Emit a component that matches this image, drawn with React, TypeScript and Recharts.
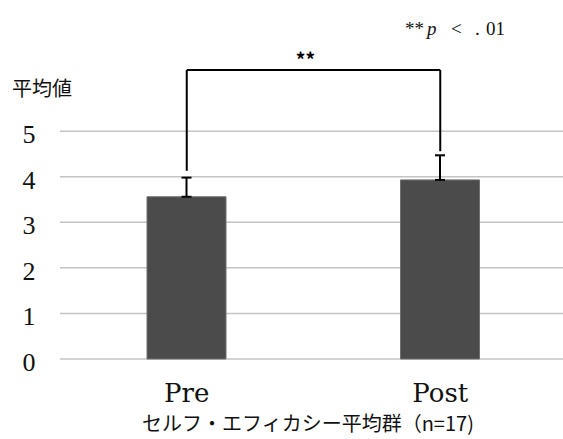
import { BarChart, Bar, XAxis, YAxis, CartesianGrid, ErrorBar, ReferenceLine, Label } from 'recharts';

const categories = ['Pre', 'Post'];
const means = [3.56, 3.93];
const errors = [0.42, 0.54];
const yTicks = [0, 1, 2, 3, 4, 5];
const bracketTop = 6.34;
const bracketEnds = [4.13, 4.56];

const data = categories.map((name, i) => ({
  name,
  mean: means[i],
  err: [0, errors[i]],
}));

const serif = '"Liberation Serif", serif';
const wideSerif = '"DejaVu Serif", serif';
const jp = '"Noto Sans CJK JP", sans-serif';

function YTick({ y, payload }: any) {
  return (
    <text x={29} y={y + 12} textAnchor="middle" fontFamily={serif} fontSize={26} fill="#111">
      {payload.value}
    </text>
  );
}

function XTick({ x, y, payload }: any) {
  return (
    <text x={x} y={y + 35} textAnchor="middle" fontFamily={wideSerif} fontSize={26} fill="#111">
      {payload.value}
    </text>
  );
}

export default function App() {
  return (
    <div style={{ position: 'absolute', left: 0, top: 0, width: 563, height: 439, overflow: 'hidden', background: '#fff' }}>
      <BarChart width={567} height={439} data={data} margin={{ top: 40, right: 0, left: 0, bottom: 20 }} barSize={79}>
        <CartesianGrid vertical={false} horizontalValues={yTicks} stroke="#c4c4c4" strokeWidth={1.5} />
        <XAxis dataKey="name" axisLine={false} tickLine={false} height={60} tick={<XTick />} />
        <YAxis
          domain={[0, 7]}
          ticks={yTicks}
          width={60}
          axisLine={false}
          tickLine={false}
          tick={<YTick />}
        />
        <Bar dataKey="mean" fill="#4b4b4b" stroke="#707070" strokeWidth={1} isAnimationActive={false}>
          <ErrorBar dataKey="err" width={5} stroke="#000" strokeWidth={2} />
        </Bar>
        <ReferenceLine
          segment={[{ x: categories[0], y: bracketTop }, { x: categories[1], y: bracketTop }]}
          stroke="#000"
          strokeWidth={2}
          ifOverflow="visible"
        >
          <Label value="**" position="top" offset={3} dx={-8} fontFamily={jp} fontSize={19} fontWeight="bold" fill="#000" />
        </ReferenceLine>
        <ReferenceLine
          segment={[{ x: categories[0], y: bracketTop }, { x: categories[0], y: bracketEnds[0] }]}
          stroke="#000"
          strokeWidth={2}
          ifOverflow="visible"
        />
        <ReferenceLine
          segment={[{ x: categories[1], y: bracketTop }, { x: categories[1], y: bracketEnds[1] }]}
          stroke="#000"
          strokeWidth={2}
          ifOverflow="visible"
        />
      </BarChart>
      <svg width={563} height={439} style={{ position: 'absolute', left: 0, top: 0, pointerEvents: 'none' }}>
        <text x={12} y={96} fontFamily={jp} fontSize={20} fill="#111">平均値</text>
        <text y={35} fontFamily={serif} fontSize={19} fill="#111">
          <tspan x={405}>**</tspan>
          <tspan x={427} fontStyle="italic">p</tspan>
          <tspan x={451}>&lt;</tspan>
          <tspan x={475}>.</tspan>
          <tspan x={486}>01</tspan>
        </text>
        <text x={308} y={431} textAnchor="middle" fontFamily={jp} fontSize={20} fill="#111">
          セルフ・エフィカシー平均群（n=17)
        </text>
      </svg>
    </div>
  );
}
